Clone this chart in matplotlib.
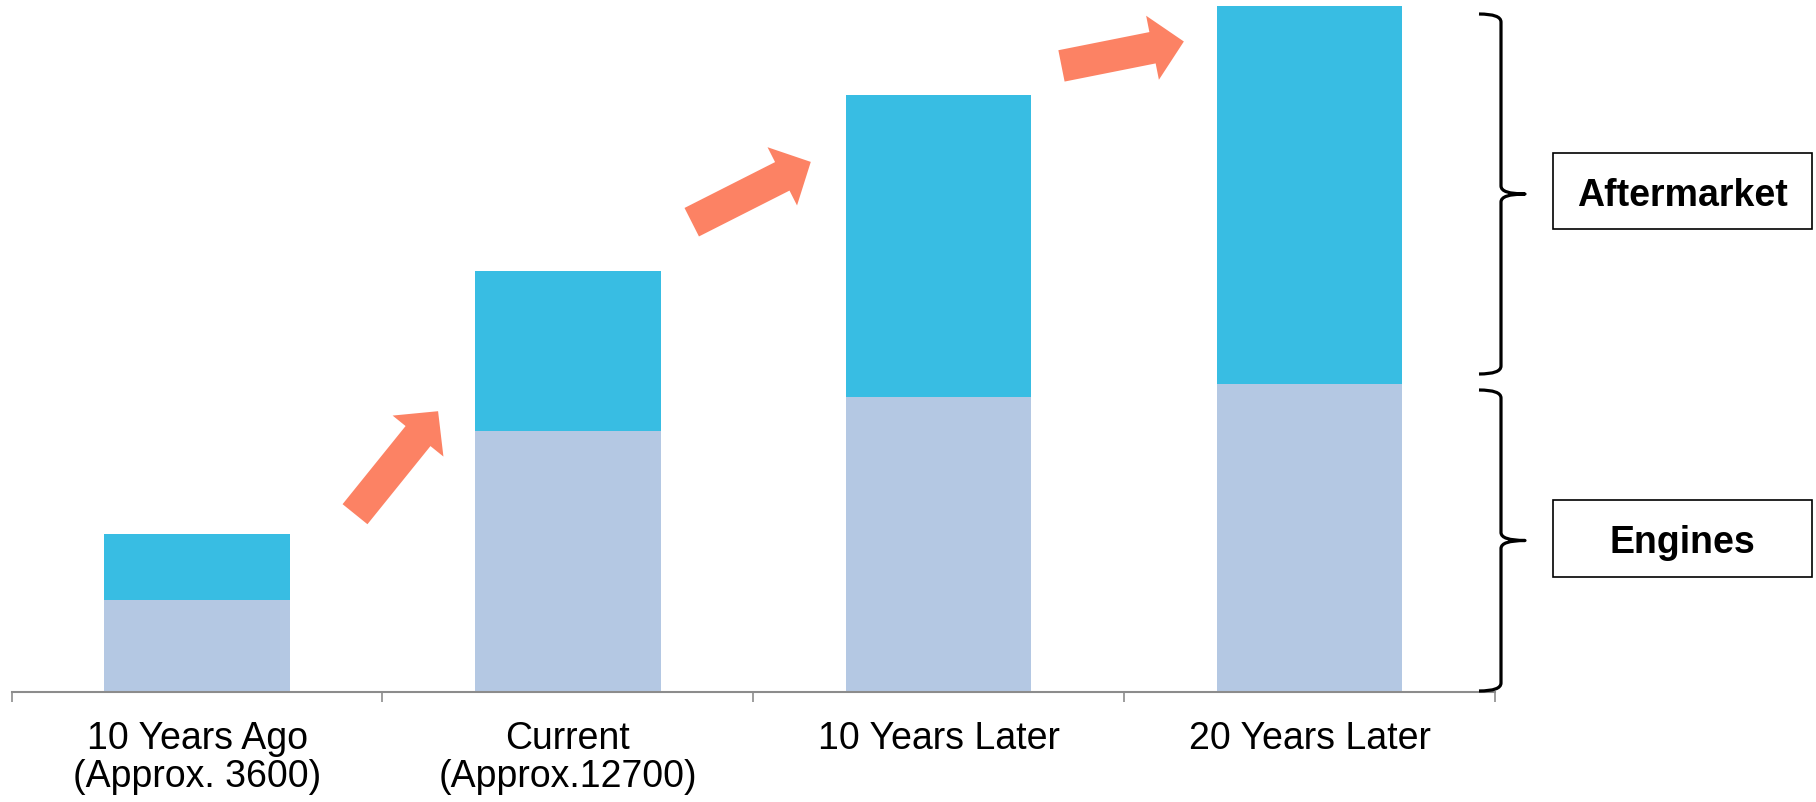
import matplotlib
matplotlib.use("Agg")
import matplotlib.pyplot as plt
from matplotlib.patches import FancyArrowPatch, ArrowStyle, Rectangle, PathPatch
from matplotlib.path import Path

plt.rcParams['font.family'] = ['Liberation Sans', 'DejaVu Sans']

# data (relative units, chart is not to scale)
categories = ['10 Years Ago\n(Approx. 3600)', 'Current\n(Approx.12700)',
              '10 Years Later', '20 Years Later']
engines = [91.8, 260.5, 295.1, 307.5]
aftermarket = [66.0, 160.3, 301.7, 378.3]

# growth arrows between bars: (x_tail, y_tail, x_head, y_head) in data units
arrows = [(0.426, 177.6, 0.650, 280.6),
          (1.334, 469.6, 1.655, 529.9),
          (2.331, 625.9, 2.661, 650.3)]

c_eng = '#B4C8E3'
c_aft = '#38BDE3'
c_arrow = '#FC8264'

fig = plt.figure(figsize=(18.16, 8.03), dpi=100)
ax = fig.add_axes([11.6 / 1816, 1 - 692.8 / 803, (1495 - 11.6) / 1816, 692.8 / 803])

x = list(range(len(categories)))
ax.bar(x, engines, width=0.5, color=c_eng, zorder=2)
ax.bar(x, aftermarket, width=0.5, bottom=engines, color=c_aft, zorder=2)

ax.set_xlim(-0.5, 3.5)
ax.set_ylim(0, 692.8)

for s in ['top', 'right', 'left']:
    ax.spines[s].set_visible(False)
ax.spines['bottom'].set_color('#8C8C8C')
ax.spines['bottom'].set_linewidth(1.5)
ax.set_yticks([])

ax.set_xticks(x)
ax.set_xticklabels(categories, fontsize=27, linespacing=1.06)
ax.tick_params(axis='x', which='major', length=0, pad=20.5)
ax.set_xticks([i - 0.5 for i in range(len(categories) + 1)], minor=True)
ax.tick_params(axis='x', which='minor', length=7.5, width=1.2, color='#8C8C8C', direction='out')

style = ArrowStyle.Simple(head_length=23, head_width=47, tail_width=23)
for x0, y0, x1, y1 in arrows:
    arr = FancyArrowPatch((x0, y0), (x1, y1), arrowstyle=style, mutation_scale=1,
                          shrinkA=0, shrinkB=0, color=c_arrow, lw=0, clip_on=False, zorder=3)
    ax.add_patch(arr)

# overlay in pixel coordinates for braces and label boxes
ov = fig.add_axes([0, 0, 1, 1])
ov.set_xlim(0, 1816)
ov.set_ylim(803, 0)
ov.axis('off')
ov.patch.set_visible(False)


def brace(x_end, x_line, x_tip, y0, y1, r=8):
    ym = (y0 + y1) / 2
    verts = [(x_end, y0), (x_line, y0), (x_line, y0 + r),
             (x_line, ym - r),
             (x_line, ym), (x_tip, ym),
             (x_line, ym), (x_line, ym + r),
             (x_line, y1 - r),
             (x_line, y1), (x_end, y1)]
    codes = [Path.MOVETO, Path.CURVE3, Path.CURVE3,
             Path.LINETO,
             Path.CURVE3, Path.CURVE3,
             Path.CURVE3, Path.CURVE3,
             Path.LINETO,
             Path.CURVE3, Path.CURVE3]
    ov.add_patch(PathPatch(Path(verts, codes), fill=False, lw=2.3, color='black',
                           capstyle='butt', joinstyle='round'))


brace(1479, 1501, 1525, 15, 375)
brace(1479, 1501, 1525, 391, 692)

for label, y0, y1 in [('Aftermarket', 154, 230), ('Engines', 501, 578)]:
    ov.add_patch(Rectangle((1553, y0), 1812 - 1553, y1 - y0, fill=False,
                           edgecolor='black', lw=1.2))
    ov.text((1553 + 1812) / 2, (y0 + y1) / 2, label, fontsize=27, fontweight='bold',
            ha='center', va='center_baseline')

fig.savefig('out.png', dpi=100)
